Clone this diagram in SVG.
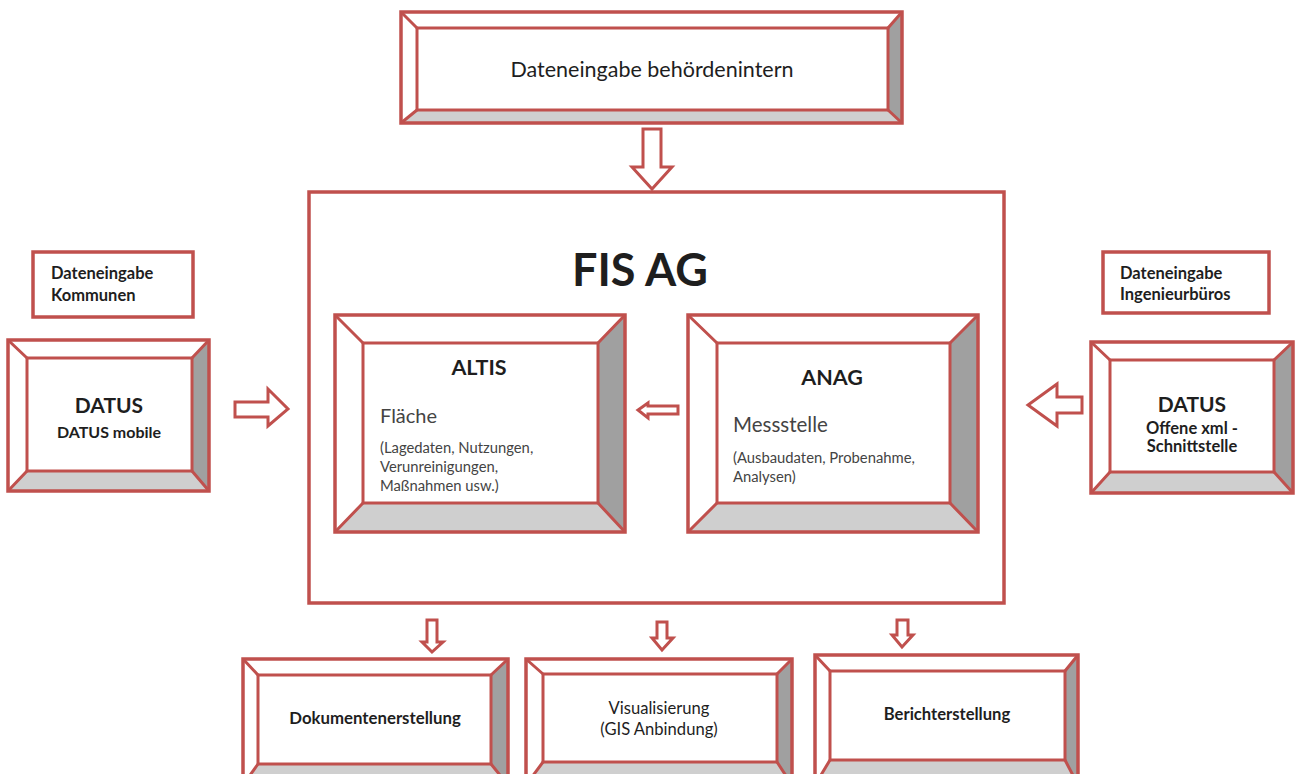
<svg xmlns="http://www.w3.org/2000/svg" width="1296" height="774" viewBox="0 0 1296 774">
<style>
.o{fill:none;stroke:#c0504d;stroke-width:3.5}
.i{fill:#fff;stroke:#c0504d;stroke-width:3}
.d{stroke:#c0504d;stroke-width:3}
.rb{fill:#a0a0a0}
.bb{fill:#cfcfcf}
.bg{fill:#fff}
.ar{fill:#fff;stroke:#c0504d;stroke-width:3;stroke-linejoin:miter}
text{font-family:Lato,"Liberation Sans",sans-serif;fill:#1e1e1e}
.b{font-weight:bold}
.g{fill:#444}
</style>
<rect width="1296" height="774" fill="#fff"/>

<g id="node-top">
<rect class="bg" x="401" y="12" width="501" height="111"/>
<polygon class="rb" points="902,12 902,123 888,110 888,28"/>
<polygon class="bb" points="401,123 902,123 888,110 417,110"/>
<rect class="i" x="417" y="28" width="471" height="82"/>
<path class="d" d="M401,12L417,28M902,12L888,28M401,123L417,110M902,123L888,110"/>
<rect class="o" x="401" y="12" width="501" height="111"/>
<text x="652" y="77" text-anchor="middle" font-size="21.5">Dateneingabe behördenintern</text>
</g>

<g id="node-fis">
<rect class="o" x="309" y="192" width="695" height="411"/>
<text x="640" y="286" text-anchor="middle" font-size="45" class="b" fill="#111">FIS AG</text>
</g>

<g id="node-kommunen">
<rect class="o" x="33" y="252" width="160" height="65"/>
<text x="51" y="279" font-size="16.5" class="b">Dateneingabe</text>
<text x="51" y="301" font-size="16.5" class="b">Kommunen</text>
</g>

<g id="node-datus-left">
<rect class="bg" x="8" y="340" width="201" height="151"/>
<polygon class="rb" points="209,340 209,491 192,471 192,358"/>
<polygon class="bb" points="8,491 209,491 192,471 27,471"/>
<rect class="i" x="27" y="358" width="165" height="113"/>
<path class="d" d="M8,340L27,358M209,340L192,358M8,491L27,471M209,491L192,471"/>
<rect class="o" x="8" y="340" width="201" height="151"/>
<text x="109" y="413" text-anchor="middle" font-size="21" class="b">DATUS</text>
<text x="109" y="438" text-anchor="middle" font-size="16" class="b">DATUS mobile</text>
</g>

<g id="node-ingenieur">
<rect class="o" x="1103" y="252" width="166" height="61"/>
<text x="1120" y="279" font-size="16.5" class="b">Dateneingabe</text>
<text x="1120" y="300" font-size="16.5" class="b">Ingenieurbüros</text>
</g>

<g id="node-datus-right">
<rect class="bg" x="1091" y="342" width="202" height="151"/>
<polygon class="rb" points="1293,342 1293,493 1274,472 1274,360"/>
<polygon class="bb" points="1091,493 1293,493 1274,472 1110,472"/>
<rect class="i" x="1110" y="360" width="164" height="112"/>
<path class="d" d="M1091,342L1110,360M1293,342L1274,360M1091,493L1110,472M1293,493L1274,472"/>
<rect class="o" x="1091" y="342" width="202" height="151"/>
<text x="1192" y="412" text-anchor="middle" font-size="21" class="b">DATUS</text>
<text x="1192" y="434" text-anchor="middle" font-size="16.5" class="b">Offene xml -</text>
<text x="1192" y="452" text-anchor="middle" font-size="16.5" class="b">Schnittstelle</text>
</g>

<g id="node-altis">
<rect class="bg" x="335" y="315" width="290" height="217"/>
<polygon class="rb" points="625,315 625,532 598,503 598,343"/>
<polygon class="bb" points="335,532 625,532 598,503 363,503"/>
<rect class="i" x="363" y="343" width="235" height="160"/>
<path class="d" d="M335,315L363,343M625,315L598,343M335,532L363,503M625,532L598,503"/>
<rect class="o" x="335" y="315" width="290" height="217"/>
<text x="479" y="375" text-anchor="middle" font-size="21.5" class="b">ALTIS</text>
<text x="380" y="423" font-size="20" class="g">Fläche</text>
<text x="380" y="453" font-size="14.8" class="g">(Lagedaten, Nutzungen,</text>
<text x="380" y="472" font-size="14.8" class="g">Verunreinigungen,</text>
<text x="380" y="491" font-size="14.8" class="g">Maßnahmen usw.)</text>
</g>

<g id="node-anag">
<rect class="bg" x="688" y="315" width="290" height="217"/>
<polygon class="rb" points="978,315 978,532 950,503 950,343"/>
<polygon class="bb" points="688,532 978,532 950,503 717,503"/>
<rect class="i" x="717" y="343" width="233" height="160"/>
<path class="d" d="M688,315L717,343M978,315L950,343M688,532L717,503M978,532L950,503"/>
<rect class="o" x="688" y="315" width="290" height="217"/>
<text x="832" y="385" text-anchor="middle" font-size="21.5" class="b">ANAG</text>
<text x="733" y="432" font-size="20.5" class="g">Messstelle</text>
<text x="733" y="463" font-size="14.8" class="g">(Ausbaudaten, Probenahme,</text>
<text x="733" y="482" font-size="14.8" class="g">Analysen)</text>
</g>

<g id="node-doku">
<rect class="bg" x="243" y="659" width="265" height="126"/>
<polygon class="rb" points="508,659 508,785 491,764 491,675"/>
<polygon class="bb" points="243,785 508,785 491,764 258,764"/>
<rect class="i" x="258" y="675" width="233" height="89"/>
<path class="d" d="M243,659L258,675M508,659L491,675M243,785L258,764M508,785L491,764"/>
<rect class="o" x="243" y="659" width="265" height="126"/>
<text x="375" y="724" text-anchor="middle" font-size="16.8" class="b">Dokumentenerstellung</text>
</g>

<g id="node-visu">
<rect class="bg" x="526" y="659" width="266" height="126"/>
<polygon class="rb" points="792,659 792,785 777,762 777,674"/>
<polygon class="bb" points="526,785 792,785 777,762 543,762"/>
<rect class="i" x="543" y="674" width="234" height="88"/>
<path class="d" d="M526,659L543,674M792,659L777,674M526,785L543,762M792,785L777,762"/>
<rect class="o" x="526" y="659" width="266" height="126"/>
<text x="659" y="714" text-anchor="middle" font-size="16.6">Visualisierung</text>
<text x="659" y="735" text-anchor="middle" font-size="16.6">(GIS Anbindung)</text>
</g>

<g id="node-bericht">
<rect class="bg" x="815" y="655" width="263" height="130"/>
<polygon class="rb" points="1078,655 1078,785 1065,760 1065,671"/>
<polygon class="bb" points="815,785 1078,785 1065,760 830,760"/>
<rect class="i" x="830" y="671" width="235" height="89"/>
<path class="d" d="M815,655L830,671M1078,655L1065,671M815,785L830,760M1078,785L1065,760"/>
<rect class="o" x="815" y="655" width="263" height="130"/>
<text x="947" y="720" text-anchor="middle" font-size="16.6" class="b">Berichterstellung</text>
</g>

<g id="connectors">
<polygon class="ar" points="643,129 661,129 661,167 672,167 652,189 632,167 643,167"/>
<polygon class="ar" points="235,402 268,402 268,389 288,409 268,426 268,417 235,417"/>
<polygon class="ar" points="1082,397 1057,397 1057,384 1028,405 1057,426 1057,413 1082,413"/>
<polygon class="ar" points="678,406 648,406 648,403 638,410 648,418 648,414 678,414"/>
<polygon class="ar" points="427,620 437,620 437,642 443,642 432,652 422,642 427,642"/>
<polygon class="ar" points="657,622 667,622 667,638 673,638 662,650 652,638 657,638"/>
<polygon class="ar" points="897,620 908,620 908,635 913,635 902,647 892,635 897,635"/>
</g>
</svg>
